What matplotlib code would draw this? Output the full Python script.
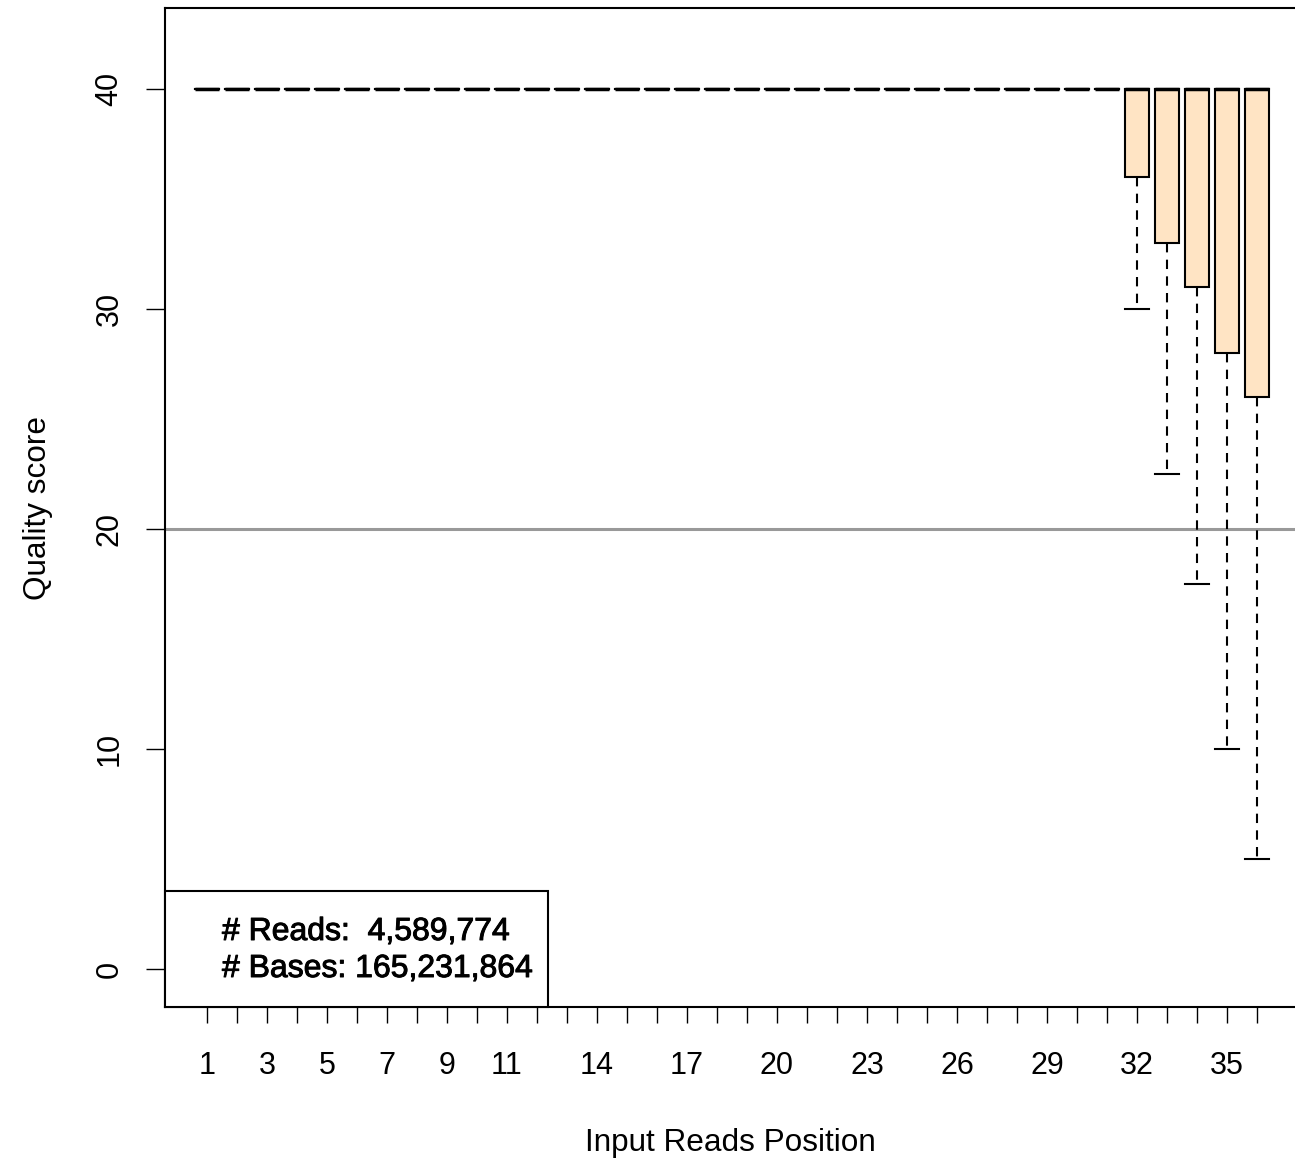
#!/usr/bin/env python3
import matplotlib
matplotlib.use('Agg')
import matplotlib.pyplot as plt
import matplotlib.patheffects as pe
from matplotlib.patches import Rectangle

plt.rcParams['font.family'] = ['Liberation Sans', 'DejaVu Sans']

# per-position quality summaries
positions = list(range(1, 37))
medians = [40] * 36
q1 = [40] * 31 + [36, 33, 31, 28, 26]
q3 = [40] * 36
whisker_low = [40] * 31 + [30, 22.5, 17.5, 10, 5]
whisker_high = [40] * 36
tick_labels = ['1', '3', '5', '7', '9', '11', '14', '17', '20', '23', '26', '29', '32', '35']
n_reads = '4,589,774'
n_bases = '165,231,864'
threshold = 20

W, H = 1295, 1160
fig = plt.figure(figsize=(W / 100, H / 100), dpi=100)
ax = fig.add_axes([165 / W, (H - 1007) / H, (W - 165) / W, (1007 - 8) / H])

stats = []
for i in range(len(positions)):
    stats.append({'med': medians[i], 'q1': q1[i], 'q3': q3[i],
                  'whislo': whisker_low[i], 'whishi': whisker_high[i],
                  'fliers': []})

ax.axhline(threshold, color='#999999', lw=2.2, zorder=1)

ax.bxp(stats, positions=positions, widths=0.8, capwidths=0.8,
       patch_artist=True, showfliers=False,
       boxprops=dict(facecolor='bisque', edgecolor='black', linewidth=1.5),
       medianprops=dict(color='black', linewidth=2.5, solid_capstyle='butt'),
       whiskerprops=dict(color='black', linewidth=1.5, linestyle=(0, (4.5, 3.5))),
       capprops=dict(color='black', linewidth=1.5),
       manage_ticks=False, zorder=3)

ax.set_xlim(-0.4, 37.267)
ax.set_ylim(-1.727, 43.68)

ax.set_xticks(positions)
ax.set_xticklabels([str(p) if str(p) in tick_labels else '' for p in positions])
ax.set_yticks([0, 10, 20, 30, 40])
ax.set_yticklabels(['0', '10', '20', '30', '40'], rotation=90, va='center')

ax.tick_params(axis='x', length=11.5, width=1.0, pad=20, labelsize=22)
ax.tick_params(axis='y', length=14, width=1.0, pad=15, labelsize=22)

for s in ['left', 'top', 'bottom']:
    ax.spines[s].set_linewidth(1.5)
ax.spines['right'].set_visible(False)

ax.set_xlabel('Input Reads Position', fontsize=22.7, labelpad=34)
ax.set_ylabel('Quality score', fontsize=22.7, labelpad=30)

# stats box in the lower left corner
bw = (548 - 165) / (W - 165)
bh = (1007 - 891) / (1007 - 8)
ax.add_patch(Rectangle((0, 0), bw, bh, transform=ax.transAxes,
                       facecolor='white', edgecolor='black', lw=1.5,
                       zorder=5, clip_on=False))
fx = (222 - 165) / (W - 165)
stroke = [pe.withStroke(linewidth=0.7, foreground='black')]
ax.text(fx, (1007 - 932) / (1007 - 8), '# Reads:  ' + n_reads,
        transform=ax.transAxes, fontsize=23, va='center', ha='left',
        zorder=6, path_effects=stroke)
ax.text(fx, (1007 - 969) / (1007 - 8), '# Bases: ' + n_bases,
        transform=ax.transAxes, fontsize=23, va='center', ha='left',
        zorder=6, path_effects=stroke)

fig.savefig('out.png', dpi=100)
